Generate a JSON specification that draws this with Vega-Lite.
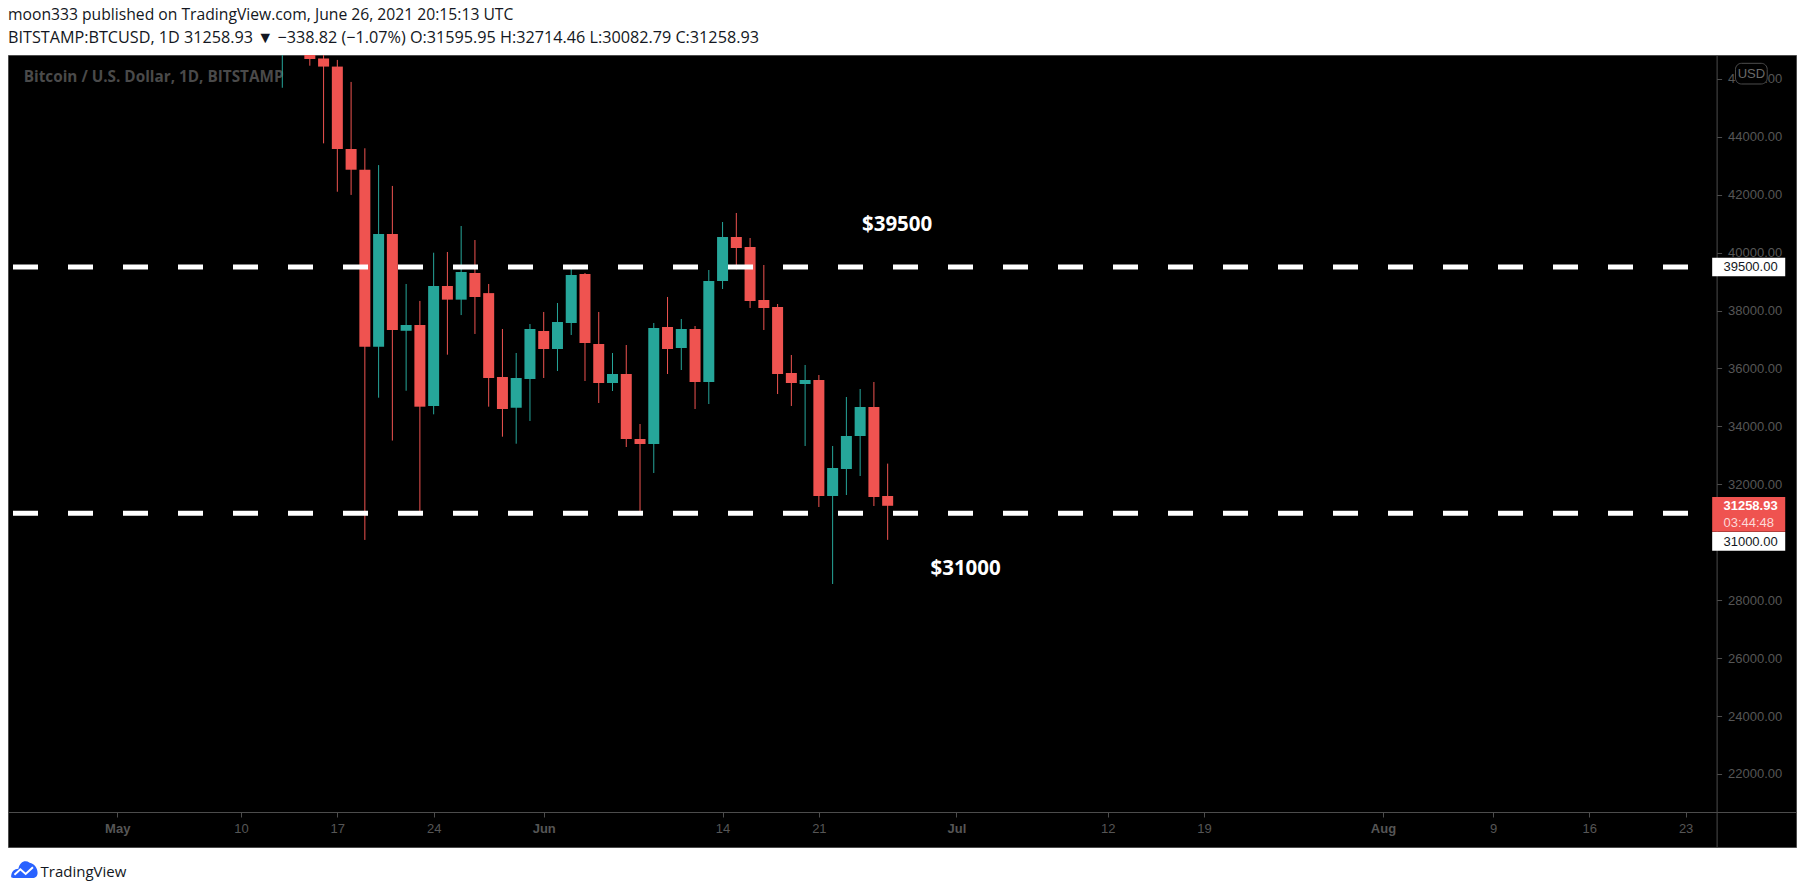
{
  "$schema": "https://vega.github.io/schema/vega-lite/v6.json",
  "width": 1788,
  "height": 792,
  "autosize": {"type": "none"},
  "padding": {"left": 8, "top": 55, "right": 9, "bottom": 47},
  "background": "white",
  "title": {
    "text": "moon333 published on TradingView.com, June 26, 2021 20:15:13 UTC",
    "subtitle": "BITSTAMP:BTCUSD, 1D  31258.93 ▼ −338.82 (−1.07%)  O:31595.95  H:32714.46  L:30082.79  C:31258.93",
    "anchor": "start",
    "frame": "group",
    "font": "Open Sans",
    "fontSize": 15.7,
    "fontWeight": "normal",
    "color": "#131722",
    "subtitleFont": "Open Sans",
    "subtitleFontSize": 16.2,
    "subtitleColor": "#131722",
    "subtitlePadding": 6,
    "offset": 8
  },
  "config": {
    "view": {"fill": "black", "stroke": "#4c4c4c", "strokeWidth": 1},
    "axis": {
      "grid": false,
      "domainColor": "#4c4c4c",
      "tickColor": "#4c4c4c",
      "labelColor": "#565656",
      "labelFont": "Liberation Sans, Arial, sans-serif",
      "labelFontSize": 13,
      "tickSize": 5
    }
  },
  "datasets": {
    "candles": [
      {"date": "2021-05-13", "open": 49500, "high": 51300, "low": 45690, "close": 49700},
      {"date": "2021-05-14", "open": 49700, "high": 51450, "low": 48870, "close": 49850},
      {"date": "2021-05-15", "open": 49850, "high": 50700, "low": 46450, "close": 46680},
      {"date": "2021-05-16", "open": 46700, "high": 49790, "low": 43770, "close": 46420},
      {"date": "2021-05-17", "open": 46420, "high": 46650, "low": 42100, "close": 43575},
      {"date": "2021-05-18", "open": 43575, "high": 45890, "low": 41990, "close": 42860},
      {"date": "2021-05-19", "open": 42860, "high": 43600, "low": 30080, "close": 36750},
      {"date": "2021-05-20", "open": 36750, "high": 43020, "low": 34990, "close": 40640},
      {"date": "2021-05-21", "open": 40640, "high": 42300, "low": 33510, "close": 37330},
      {"date": "2021-05-22", "open": 37300, "high": 38915, "low": 35230, "close": 37500},
      {"date": "2021-05-23", "open": 37500, "high": 38330, "low": 31055, "close": 34680},
      {"date": "2021-05-24", "open": 34700, "high": 39995, "low": 34416, "close": 38846},
      {"date": "2021-05-25", "open": 38846, "high": 40020, "low": 36475, "close": 38375},
      {"date": "2021-05-26", "open": 38375, "high": 40917, "low": 37843, "close": 39330},
      {"date": "2021-05-27", "open": 39295, "high": 40433, "low": 37190, "close": 38467},
      {"date": "2021-05-28", "open": 38600, "high": 38915, "low": 34680, "close": 35670},
      {"date": "2021-05-29", "open": 35704, "high": 37362, "low": 33644, "close": 34600},
      {"date": "2021-05-30", "open": 34646, "high": 36533, "low": 33402, "close": 35670},
      {"date": "2021-05-31", "open": 35635, "high": 37534, "low": 34187, "close": 37362},
      {"date": "2021-06-01", "open": 37293, "high": 37949, "low": 35670, "close": 36671},
      {"date": "2021-06-02", "open": 36671, "high": 38259, "low": 35912, "close": 37603},
      {"date": "2021-06-03", "open": 37569, "high": 39480, "low": 37155, "close": 39226},
      {"date": "2021-06-04", "open": 39260, "high": 39295, "low": 35566, "close": 36878},
      {"date": "2021-06-05", "open": 36843, "high": 37949, "low": 34807, "close": 35497},
      {"date": "2021-06-06", "open": 35497, "high": 36533, "low": 35221, "close": 35808},
      {"date": "2021-06-07", "open": 35808, "high": 36809, "low": 33288, "close": 33564},
      {"date": "2021-06-08", "open": 33564, "high": 34082, "low": 31000, "close": 33392},
      {"date": "2021-06-09", "open": 33392, "high": 37569, "low": 32391, "close": 37396},
      {"date": "2021-06-10", "open": 37431, "high": 38467, "low": 35808, "close": 36671},
      {"date": "2021-06-11", "open": 36706, "high": 37707, "low": 35946, "close": 37362},
      {"date": "2021-06-12", "open": 37362, "high": 37465, "low": 34600, "close": 35532},
      {"date": "2021-06-13", "open": 35532, "high": 39398, "low": 34772, "close": 39018},
      {"date": "2021-06-14", "open": 39018, "high": 41055, "low": 38742, "close": 40537},
      {"date": "2021-06-15", "open": 40537, "high": 41366, "low": 39420, "close": 40158},
      {"date": "2021-06-16", "open": 40192, "high": 40503, "low": 38087, "close": 38328},
      {"date": "2021-06-17", "open": 38363, "high": 39571, "low": 37327, "close": 38087},
      {"date": "2021-06-18", "open": 38121, "high": 38224, "low": 35117, "close": 35808},
      {"date": "2021-06-19", "open": 35843, "high": 36464, "low": 34704, "close": 35497},
      {"date": "2021-06-20", "open": 35463, "high": 36119, "low": 33323, "close": 35601},
      {"date": "2021-06-21", "open": 35601, "high": 35774, "low": 31217, "close": 31597},
      {"date": "2021-06-22", "open": 31597, "high": 33323, "low": 28559, "close": 32564},
      {"date": "2021-06-23", "open": 32529, "high": 35014, "low": 31631, "close": 33668},
      {"date": "2021-06-24", "open": 33668, "high": 35290, "low": 32287, "close": 34669},
      {"date": "2021-06-25", "open": 34669, "high": 35532, "low": 31251, "close": 31562},
      {"date": "2021-06-26", "open": 31595.95, "high": 32714.46, "low": 30082.79, "close": 31258.93}
    ],
    "levels": [
      {"level": 39500},
      {"level": 31000}
    ],
    "one": [{}]
  },
  "layer": [
    {
      "data": {"name": "one"},
      "mark": {"type": "text", "align": "left", "baseline": "middle", "font": "Open Sans", "fontSize": 15.3, "fontWeight": "bold", "color": "#4a4a4a"},
      "encoding": {
        "x": {
          "datum": {"year": 2021, "month": 4, "date": 24, "hours": 5, "utc": true},
          "type": "temporal",
          "scale": {
            "type": "utc",
            "domain": [
              {"year": 2021, "month": 4, "date": 23, "hours": 10, "minutes": 12, "utc": true},
              {"year": 2021, "month": 8, "date": 30, "hours": 15, "minutes": 50, "utc": true}
            ]
          },
          "axis": {
            "title": "TradingView",
            "titleFont": "Open Sans",
            "titleFontSize": 15,
            "titleFontWeight": "normal",
            "titleColor": "#131722",
            "titleAnchor": "start",
            "titleAlign": "left",
            "titleBaseline": "middle",
            "titleX": 32,
            "titleY": 59,
            "offset": -35,
            "labelPadding": 5,
            "labelOverlap": false,
            "labelFlush": false,
            "values": [
              {"year": 2021, "month": 5, "date": 1, "utc": true},
              {"year": 2021, "month": 5, "date": 10, "utc": true},
              {"year": 2021, "month": 5, "date": 17, "utc": true},
              {"year": 2021, "month": 5, "date": 24, "utc": true},
              {"year": 2021, "month": 6, "date": 1, "utc": true},
              {"year": 2021, "month": 6, "date": 14, "utc": true},
              {"year": 2021, "month": 6, "date": 21, "utc": true},
              {"year": 2021, "month": 7, "date": 1, "utc": true},
              {"year": 2021, "month": 7, "date": 12, "utc": true},
              {"year": 2021, "month": 7, "date": 19, "utc": true},
              {"year": 2021, "month": 8, "date": 1, "utc": true},
              {"year": 2021, "month": 8, "date": 9, "utc": true},
              {"year": 2021, "month": 8, "date": 16, "utc": true},
              {"year": 2021, "month": 8, "date": 23, "utc": true}
            ],
            "labelExpr": "utcdate(datum.value) == 1 ? utcFormat(datum.value, '%b') : utcFormat(datum.value, '%-d')",
            "labelFontWeight": {"condition": {"test": "utcdate(datum.value) == 1", "value": "bold"}, "value": "normal"}
          }
        },
        "y": {
          "datum": 46060,
          "type": "quantitative",
          "scale": {"domain": [19480, 46820], "zero": false, "nice": false},
          "axis": {
            "orient": "right",
            "offset": -79.4,
            "title": null,
            "format": ".2f",
            "labelPadding": 6,
            "labelAlign": "left",
            "values": [22000, 24000, 26000, 28000, 32000, 34000, 36000, 38000, 40000, 42000, 44000, 46000]
          }
        },
        "text": {"value": "Bitcoin / U.S. Dollar, 1D, BITSTAMP"}
      }
    },
    {
      "data": {"name": "candles"},
      "mark": {"type": "rule", "strokeWidth": 1, "clip": true},
      "encoding": {
        "x": {"field": "date", "type": "temporal"},
        "y": {"field": "low", "type": "quantitative"},
        "y2": {"field": "high"},
        "color": {"condition": {"test": "datum.close >= datum.open", "value": "#26a69a"}, "value": "#ef5350"}
      }
    },
    {
      "data": {"name": "candles"},
      "mark": {"type": "bar", "width": 11, "clip": true},
      "encoding": {
        "x": {"field": "date", "type": "temporal"},
        "y": {"field": "open", "type": "quantitative"},
        "y2": {"field": "close"},
        "color": {"condition": {"test": "datum.close >= datum.open", "value": "#26a69a"}, "value": "#ef5350"}
      }
    },
    {
      "data": {"name": "levels"},
      "mark": {"type": "rule", "color": "white", "strokeWidth": 5, "strokeDash": [25, 30]},
      "encoding": {
        "y": {"field": "level", "type": "quantitative"},
        "x": {"datum": {"year": 2021, "month": 4, "date": 23, "hours": 10, "minutes": 12, "utc": true}, "type": "temporal"},
        "x2": {"datum": {"year": 2021, "month": 8, "date": 24, "hours": 22, "minutes": 20, "utc": true}}
      }
    },
    {
      "data": {"name": "one"},
      "mark": {"type": "text", "align": "center", "baseline": "middle", "font": "Open Sans", "fontSize": 20.5, "fontWeight": "bold", "color": "white"},
      "encoding": {
        "x": {"datum": {"year": 2021, "month": 6, "date": 26, "hours": 16, "minutes": 30, "utc": true}, "type": "temporal"},
        "y": {"datum": 40950, "type": "quantitative"},
        "text": {"value": "$39500"}
      }
    },
    {
      "data": {"name": "one"},
      "mark": {"type": "text", "align": "center", "baseline": "middle", "font": "Open Sans", "fontSize": 20.5, "fontWeight": "bold", "color": "white"},
      "encoding": {
        "x": {"datum": {"year": 2021, "month": 7, "date": 1, "hours": 16, "utc": true}, "type": "temporal"},
        "y": {"datum": 29090, "type": "quantitative"},
        "text": {"value": "$31000"}
      }
    },
    {
      "data": {"name": "one"},
      "mark": {"type": "rect", "color": "white"},
      "encoding": {
        "x": {"datum": {"year": 2021, "month": 8, "date": 24, "hours": 22, "minutes": 20, "utc": true}, "type": "temporal"},
        "x2": {"datum": {"year": 2021, "month": 8, "date": 30, "hours": 5, "minutes": 45, "utc": true}},
        "y": {"datum": 39820, "type": "quantitative"},
        "y2": {"datum": 39180}
      }
    },
    {
      "data": {"name": "one"},
      "mark": {"type": "rect", "color": "#ef5350"},
      "encoding": {
        "x": {"datum": {"year": 2021, "month": 8, "date": 24, "hours": 22, "minutes": 20, "utc": true}, "type": "temporal"},
        "x2": {"datum": {"year": 2021, "month": 8, "date": 30, "hours": 5, "minutes": 45, "utc": true}},
        "y": {"datum": 31560, "type": "quantitative"},
        "y2": {"datum": 30365}
      }
    },
    {
      "data": {"name": "one"},
      "mark": {"type": "rect", "color": "white"},
      "encoding": {
        "x": {"datum": {"year": 2021, "month": 8, "date": 24, "hours": 22, "minutes": 20, "utc": true}, "type": "temporal"},
        "x2": {"datum": {"year": 2021, "month": 8, "date": 30, "hours": 5, "minutes": 45, "utc": true}},
        "y": {"datum": 30355, "type": "quantitative"},
        "y2": {"datum": 29710}
      }
    },
    {
      "data": {"name": "one"},
      "mark": {"type": "text", "align": "left", "baseline": "middle", "font": "Liberation Sans, Arial, sans-serif", "fontSize": 13, "color": "#131722"},
      "encoding": {
        "x": {"datum": {"year": 2021, "month": 8, "date": 25, "hours": 18, "utc": true}, "type": "temporal"},
        "y": {"datum": 39500, "type": "quantitative"},
        "text": {"value": "39500.00"}
      }
    },
    {
      "data": {"name": "one"},
      "mark": {"type": "text", "align": "left", "baseline": "middle", "font": "Liberation Sans, Arial, sans-serif", "fontSize": 13, "fontWeight": "bold", "color": "white"},
      "encoding": {
        "x": {"datum": {"year": 2021, "month": 8, "date": 25, "hours": 18, "utc": true}, "type": "temporal"},
        "y": {"datum": 31258.93, "type": "quantitative"},
        "text": {"value": "31258.93"}
      }
    },
    {
      "data": {"name": "one"},
      "mark": {"type": "text", "align": "left", "baseline": "middle", "font": "Liberation Sans, Arial, sans-serif", "fontSize": 13, "color": "#fcd9d8"},
      "encoding": {
        "x": {"datum": {"year": 2021, "month": 8, "date": 25, "hours": 18, "utc": true}, "type": "temporal"},
        "y": {"datum": 30675, "type": "quantitative"},
        "text": {"value": "03:44:48"}
      }
    },
    {
      "data": {"name": "one"},
      "mark": {"type": "text", "align": "left", "baseline": "middle", "font": "Liberation Sans, Arial, sans-serif", "fontSize": 13, "color": "#131722"},
      "encoding": {
        "x": {"datum": {"year": 2021, "month": 8, "date": 25, "hours": 18, "utc": true}, "type": "temporal"},
        "y": {"datum": 30020, "type": "quantitative"},
        "text": {"value": "31000.00"}
      }
    },
    {
      "data": {"name": "one"},
      "mark": {"type": "rect", "fill": "black", "stroke": "#4c4c4c", "strokeWidth": 1, "cornerRadius": 6},
      "encoding": {
        "x": {"datum": {"year": 2021, "month": 8, "date": 26, "hours": 15, "utc": true}, "type": "temporal"},
        "x2": {"datum": {"year": 2021, "month": 8, "date": 28, "hours": 22, "minutes": 20, "utc": true}},
        "y": {"datum": 46533, "type": "quantitative"},
        "y2": {"datum": 45819}
      }
    },
    {
      "data": {"name": "one"},
      "mark": {"type": "text", "align": "center", "baseline": "middle", "font": "Liberation Sans, Arial, sans-serif", "fontSize": 13, "color": "#6a6a6a"},
      "encoding": {
        "x": {"datum": {"year": 2021, "month": 8, "date": 27, "hours": 18, "minutes": 45, "utc": true}, "type": "temporal"},
        "y": {"datum": 46176, "type": "quantitative"},
        "text": {"value": "USD"}
      }
    },
    {
      "data": {"name": "one"},
      "mark": {"type": "point", "filled": true, "color": "#2962ff", "opacity": 1, "size": 700, "shape": "M-1,0.55 C-1,0.1 -0.75,-0.1 -0.45,-0.1 C-0.35,-0.6 0.05,-0.8 0.4,-0.55 C0.75,-0.5 1,-0.15 1,0.2 C1,0.45 0.85,0.6 0.6,0.6 L-0.85,0.6 Z"},
      "encoding": {
        "x": {"datum": {"year": 2021, "month": 4, "date": 24, "hours": 6, "utc": true}, "type": "temporal"},
        "y": {"datum": 18686, "type": "quantitative"}
      }
    },
    {
      "data": {"name": "one"},
      "mark": {"type": "point", "filled": false, "color": "white", "opacity": 1, "strokeWidth": 2, "size": 700, "shape": "M-0.75,0.35 L-0.3,-0.05 L0.1,0.3 L0.65,-0.2"},
      "encoding": {
        "x": {"datum": {"year": 2021, "month": 4, "date": 24, "hours": 6, "utc": true}, "type": "temporal"},
        "y": {"datum": 18686, "type": "quantitative"}
      }
    }
  ]
}
